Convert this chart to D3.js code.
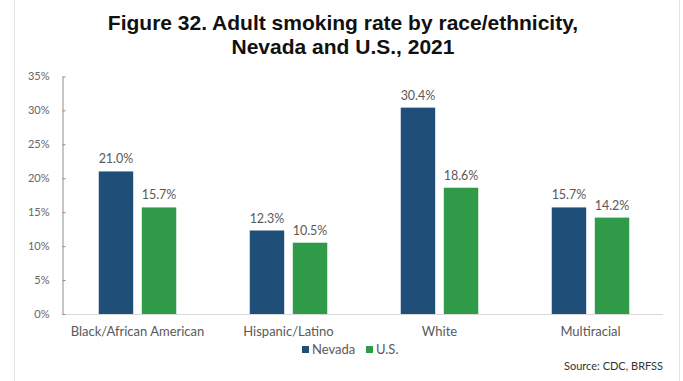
<!DOCTYPE html>
<html>
<head>
<meta charset="utf-8">
<script src="https://cdn.jsdelivr.net/npm/d3@7"></script>
<style>
  html, body { margin: 0; padding: 0; background: #fff; }
  svg { display: block; }
</style>
</head>
<body>
<svg id="chart" width="683" height="381"></svg>
<script>
const categories = ["Black/African American", "Hispanic/Latino", "White", "Multiracial"];
const seriesNames = ["Nevada", "U.S."];
const nevadaValues = [21.0, 12.3, 30.4, 15.7];
const usValues = [15.7, 10.5, 18.6, 14.2];
const yTicks = [0, 5, 10, 15, 20, 25, 30, 35];
const titleLines = ["Figure 32. Adult smoking rate by race/ethnicity,", "Nevada and U.S., 2021"];
const sourceText = "Source: CDC, BRFSS";
const colors = ["#1f4e79", "#2f9a47"];

const svg = d3.select("#chart");
const W = 683, H = 381;
const margin = { left: 62, right: 683 - 666, top: 76.4, bottom: 381 - 314 };
const bodyFont = "Lato, 'Open Sans', sans-serif";

// frame
svg.append("line").attr("x1", 14.5).attr("x2", 14.5).attr("y1", 0).attr("y2", H)
  .attr("stroke", "#e3e3e3").attr("stroke-width", 1);
svg.append("line").attr("x1", 679.5).attr("x2", 679.5).attr("y1", 0).attr("y2", H)
  .attr("stroke", "#e3e3e3").attr("stroke-width", 1);

// title
svg.append("g").selectAll("text").data(titleLines).join("text")
  .attr("x", 343).attr("y", (d, i) => 30 + i * 24)
  .attr("text-anchor", "middle")
  .attr("font-family", "'Liberation Sans', Arial, sans-serif")
  .attr("font-weight", "bold").attr("font-size", 21)
  .attr("fill", "#111").text(d => d);

const x0 = d3.scaleBand().domain(categories).range([margin.left, W - margin.right]).paddingInner(0).paddingOuter(0);
const x1 = d3.scaleBand().domain(seriesNames).range([-38.75, 38.75]).paddingInner(0.2);
const y = d3.scaleLinear().domain([0, 35]).range([H - margin.bottom, margin.top]);

// baseline
svg.append("line").attr("x1", margin.left).attr("x2", 663).attr("y1", y(0) + 0.5).attr("y2", y(0) + 0.5)
  .attr("stroke", "#d9d9d9").attr("stroke-width", 1);

// y axis
const yAxis = d3.axisLeft(y).tickValues(yTicks).tickFormat(d => d + "%").tickSizeInner(-3).tickSizeOuter(0).tickPadding(13);
const yg = svg.append("g").attr("transform", `translate(${margin.left + 0.5},0)`).call(yAxis);
yg.select(".domain").attr("stroke", "#8c8c8c");
yg.selectAll(".tick line").attr("stroke", "#8c8c8c");
yg.selectAll(".tick text").attr("font-family", bodyFont).attr("font-size", 11).attr("fill", "#666");

// bars
const data = categories.map((c, i) => ({ cat: c, vals: [nevadaValues[i], usValues[i]] }));
const groups = svg.append("g").selectAll("g").data(data).join("g")
  .attr("transform", d => `translate(${x0(d.cat) + x0.bandwidth() / 2},0)`);
groups.selectAll("rect").data(d => d.vals.map((v, j) => ({ s: seriesNames[j], v, j })))
  .join("rect")
  .attr("x", d => x1(d.s)).attr("width", x1.bandwidth())
  .attr("y", d => y(d.v)).attr("height", d => y(0) - y(d.v))
  .attr("fill", d => colors[d.j]);
groups.selectAll("text.val").data(d => d.vals.map((v, j) => ({ s: seriesNames[j], v, j })))
  .join("text").attr("class", "val")
  .attr("x", d => x1(d.s) + x1.bandwidth() / 2).attr("y", d => y(d.v) - 8)
  .attr("text-anchor", "middle").attr("font-family", bodyFont).attr("font-size", 12.5)
  .attr("fill", "#595959").text(d => d.v.toFixed(1) + "%");

// x labels
svg.append("g").selectAll("text").data(categories).join("text")
  .attr("x", d => x0(d) + x0.bandwidth() / 2).attr("y", 336)
  .attr("text-anchor", "middle").attr("font-family", bodyFont).attr("font-size", 13)
  .attr("fill", "#595959").text(d => d);

// legend
const legend = svg.append("g").attr("transform", "translate(302,0)");
const legItems = [{ name: seriesNames[0], x: 0 }, { name: seriesNames[1], x: 64 }];
legItems.forEach((it, i) => {
  legend.append("rect").attr("x", it.x).attr("y", 346).attr("width", 7).attr("height", 7).attr("fill", colors[i]);
  legend.append("text").attr("x", it.x + 10).attr("y", 354).attr("font-family", bodyFont)
    .attr("font-size", 13).attr("fill", "#595959").text(it.name);
});

// source
svg.append("text").attr("x", 663).attr("y", 370).attr("text-anchor", "end")
  .attr("font-family", bodyFont).attr("font-size", 11).attr("fill", "#333").text(sourceText);
</script>
</body>
</html>
